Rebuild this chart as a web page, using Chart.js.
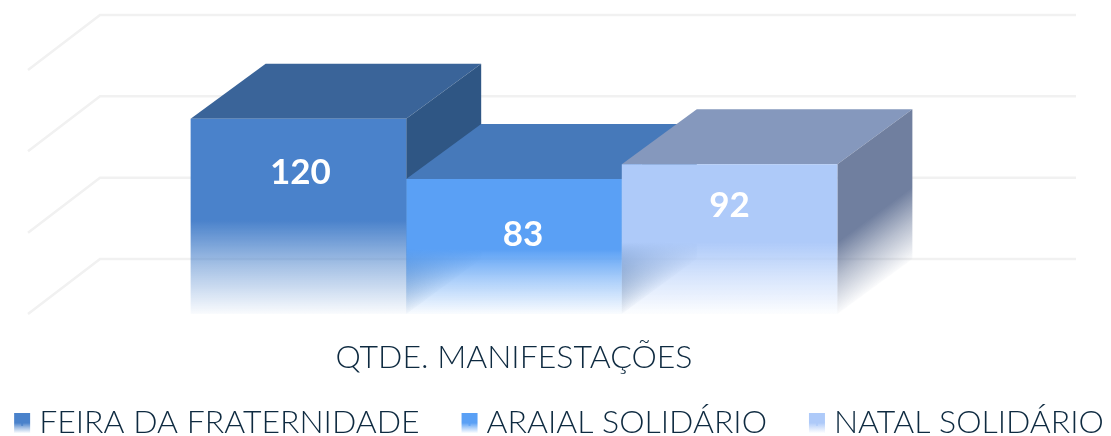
<!DOCTYPE html>
<html>
<head>
<meta charset="utf-8">
<title>Qtde. manifestações</title>
<script src="https://cdn.jsdelivr.net/npm/chart.js@4"></script>
<style>
    html, body { margin: 0; padding: 0; background: #ffffff; }
    #box { width: 1111px; height: 436px; position: relative; }
</style>
</head>
<body>
<div id="box"><canvas id="manifestacoesChart"></canvas></div>
<script>
// Dados
const categories = ['QTDE. MANIFESTAÇÕES'];
const seriesNames = ['FEIRA DA FRATERNIDADE', 'ARAIAL SOLIDÁRIO', 'NATAL SOLIDÁRIO'];
const seriesValues = [[120], [83], [92]];
const yTicks = [0, 50, 100, 150];

// Cores de cada caixa: frente, topo, lateral
const frontColors = ['74,130,203', '90,160,245', '174,202,249'];
const topColors = ['#3a6499', '#4679ba', '#8598bd'];
const sideColors = ['47,86,132', '47,86,132', '112,127,159'];

// Deslocamento da profundidade 3D e ajuste dos rótulos
const depthX = 75;
const depthY = 55;
const labelNudge = [[2, 54], [9, 56], [0, 41]];

function fadeGradient(ctx, top, bottom, rgb) {
    const g = ctx.createLinearGradient(0, top, 0, bottom);
    g.addColorStop(0, 'rgba(' + rgb + ',1)');
    g.addColorStop(0.52, 'rgba(' + rgb + ',1)');
    g.addColorStop(0.75, 'rgba(' + rgb + ',0.5)');
    g.addColorStop(1, 'rgba(' + rgb + ',0.03)');
    return g;
}

// Grade de fundo e faces 3D (topo e lateral), da esquerda para a direita
const boxFaces = {
    id: 'boxFaces',
    afterLayout(chart) {
        // a legenda sobe para perto do rótulo do eixo só no desenho
        chart.legend.top = 358;
    },
    beforeDatasetsDraw(chart) {
        const { ctx, chartArea, scales } = chart;
        const base = scales.y.getPixelForValue(0);

        ctx.save();
        ctx.strokeStyle = '#f1f1f1';
        ctx.lineWidth = 2.5;
        yTicks.forEach(function(t) {
            const y = scales.y.getPixelForValue(t);
            ctx.beginPath();
            ctx.moveTo(chartArea.left + 1, y);
            ctx.lineTo(chartArea.left + depthX - 2, y - depthY);
            ctx.lineTo(chartArea.right + depthX, y - depthY);
            ctx.stroke();
        });
        ctx.restore();

        seriesValues.forEach(function(values, i) {
            const bar = chart.getDatasetMeta(i).data[0];
            const left = bar.x - bar.width / 2;
            const right = bar.x + bar.width / 2;

            ctx.save();
            ctx.fillStyle = topColors[i];
            ctx.beginPath();
            ctx.moveTo(left, bar.y);
            ctx.lineTo(left + depthX, bar.y - depthY);
            ctx.lineTo(right + depthX, bar.y - depthY);
            ctx.lineTo(right, bar.y);
            ctx.closePath();
            ctx.fill();

            // lateral inclinada: o degradê acompanha a diagonal da base
            ctx.transform(1, -depthY / depthX, 0, 1, right, 0);
            ctx.fillStyle = fadeGradient(ctx, bar.y, base, sideColors[i]);
            ctx.fillRect(0, bar.y, depthX, base - bar.y);
            ctx.restore();
        });
    }
};

const valueLabels = {
    id: 'valueLabels',
    afterDatasetsDraw(chart) {
        const ctx = chart.ctx;
        ctx.save();
        ctx.fillStyle = '#ffffff';
        ctx.font = 'bold 35px Lato';
        ctx.textAlign = 'center';
        ctx.textBaseline = 'middle';
        seriesValues.forEach(function(values, i) {
            const bar = chart.getDatasetMeta(i).data[0];
            ctx.fillText(values[0], bar.x + labelNudge[i][0], bar.y + labelNudge[i][1]);
        });
        ctx.restore();
    }
};

const ctx = document.getElementById('manifestacoesChart');

new Chart(ctx, {
    type: 'bar',
    data: {
        labels: categories,
        datasets: seriesNames.map(function(name, i) {
            return {
                label: name,
                data: seriesValues[i],
                backgroundColor: function(c) {
                    if (!c.chart.chartArea) {
                        return 'rgb(' + frontColors[i] + ')';
                    }
                    const y = c.chart.scales.y;
                    return fadeGradient(c.chart.ctx, y.getPixelForValue(seriesValues[i][0]), y.getPixelForValue(0), frontColors[i]);
                },
                borderWidth: 0
            };
        })
    },
    options: {
        responsive: true,
        maintainAspectRatio: false,
        animation: false,
        layout: {
            // margens negativas: a legenda precisa de mais largura e altura que a tela
            padding: { top: 70, left: -33, right: -47, bottom: -33 }
        },
        datasets: {
            bar: { categoryPercentage: 0.664, barPercentage: 1 }
        },
        scales: {
            x: {
                grid: { display: false },
                border: { display: false },
                afterFit: function(axis) { axis.height = 64; },
                ticks: {
                    color: '#0e2a40',
                    padding: 16,
                    font: { family: 'Lato', size: 32, weight: 300 }
                }
            },
            y: {
                min: 0,
                max: 150,
                grid: { display: false },
                border: { display: false },
                ticks: { display: false, stepSize: 50 },
                afterFit: function(axis) { axis.width = 60; }
            },
            yRight: {
                position: 'right',
                grid: { display: false },
                border: { display: false },
                ticks: { display: false },
                afterFit: function(axis) { axis.width = 157; }
            }
        },
        plugins: {
            tooltip: { enabled: false },
            legend: {
                position: 'bottom',
                labels: {
                    color: '#0e2a40',
                    font: { family: 'Lato', size: 32, weight: 300 },
                    padding: 49,
                    boxWidth: 2,
                    boxHeight: 6,
                    // caixa fina com borda grossa, para o texto ficar perto do marcador
                    generateLabels: function(chart) {
                        return seriesNames.map(function(name, i) {
                            const g = fadeGradient(chart.ctx, 412, 433, frontColors[i]);
                            return {
                                text: name,
                                datasetIndex: i,
                                fillStyle: g,
                                strokeStyle: g,
                                lineWidth: 14,
                                fontColor: '#0e2a40'
                            };
                        });
                    }
                }
            }
        }
    },
    plugins: [boxFaces, valueLabels]
});
</script>
</body>
</html>
